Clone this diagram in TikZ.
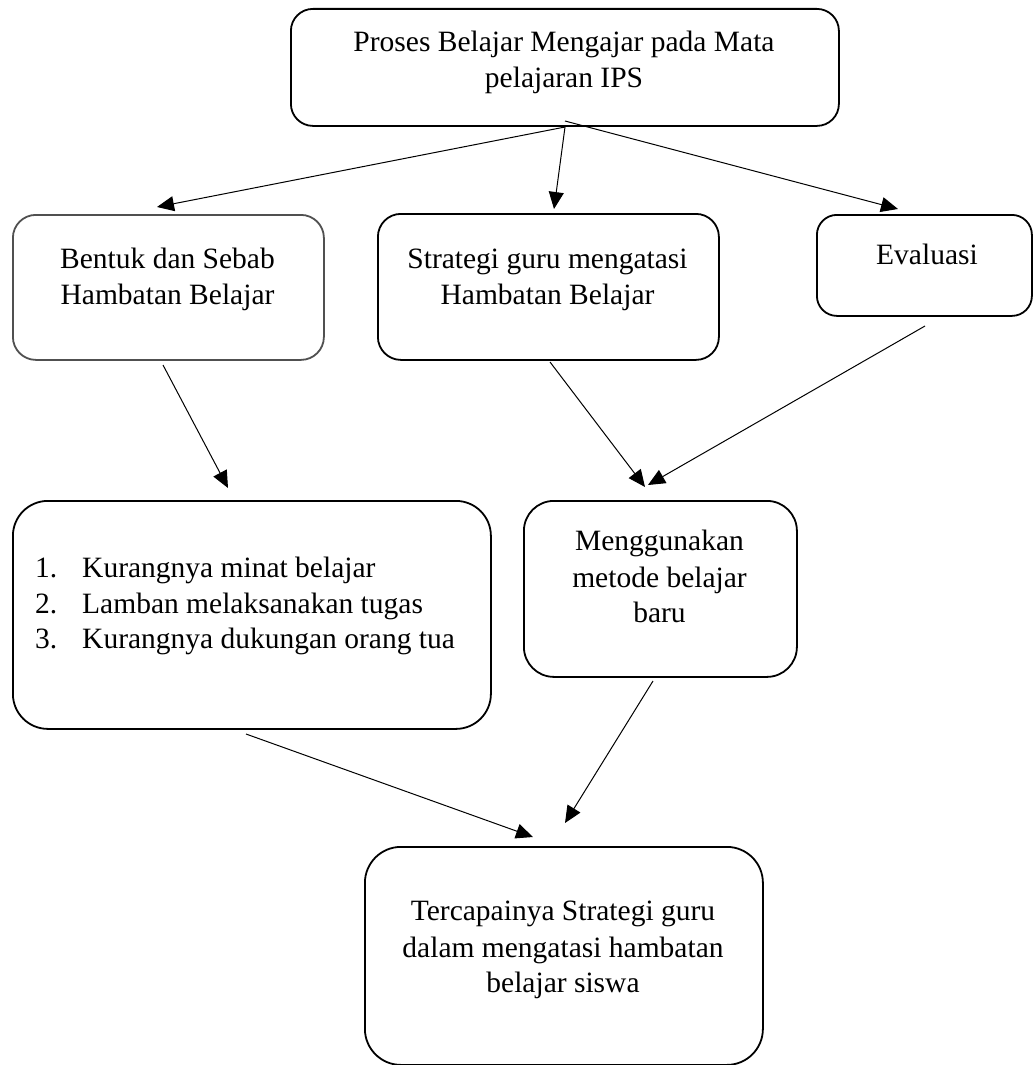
\documentclass[tikz,border=0pt]{standalone}
\usepackage{fontspec}
\setmainfont{Liberation Serif}
\usetikzlibrary{arrows.meta}
\definecolor{boxgray}{RGB}{80,80,80}
\begin{document}
\begin{tikzpicture}[x=1pt,y=-1pt,
  box/.style={draw=black, line width=1.8pt, rounded corners=#1, inner sep=0pt, anchor=north west, fill=none},
  lbl/.style={inner sep=0pt, anchor=base, font=\fontsize{29.5}{35.5}\selectfont},
  lbll/.style={lbl, anchor=base west},
  conn/.style={line width=1pt, -{Triangle[length=17pt,width=15pt]}}]
\useasboundingbox (0,0) rectangle (1034,1065);
\fill[white] (0,0) rectangle (1034,1065);
% boxes
\node[box=22pt, minimum width=548pt, minimum height=117pt] (top) at (290,8) {};
\node[box=23pt, draw=boxgray, minimum width=311pt, minimum height=145pt] (bentuk) at (12,214) {};
\node[box=23pt, minimum width=341pt, minimum height=146pt] (strategi) at (377,213) {};
\node[box=20pt, minimum width=215pt, minimum height=101pt] (eval) at (816,214) {};
\node[box=35pt, minimum width=478pt, minimum height=228pt] (list) at (12,500) {};
\node[box=30pt, minimum width=273pt, minimum height=176pt] (meng) at (523,500) {};
\node[box=36pt, minimum width=398pt, minimum height=218pt] (hasil) at (364,846) {};
% texts
\node[lbl] (topa) at (564,52) {Proses Belajar Mengajar pada Mata};
\node[lbl] (topb) at (564,87.5) {pelajaran IPS};
\node[lbl] (bentuka) at (167.5,268) {Bentuk dan Sebab};
\node[lbl] (bentukb) at (167.5,304) {Hambatan Belajar};
\node[lbl] (strategia) at (547.5,268) {Strategi guru mengatasi};
\node[lbl] (strategib) at (547.5,304) {Hambatan Belajar};
\node[lbl] (evala) at (927,264) {Evaluasi};
\node[lbll] (n1) at (35,577) {1.};
\node[lbll] (l1) at (82,577) {Kurangnya minat belajar};
\node[lbll] (n2) at (35,613) {2.};
\node[lbll] (l2) at (82,613) {Lamban melaksanakan tugas};
\node[lbll] (n3) at (35,648) {3.};
\node[lbll] (l3) at (82,648) {Kurangnya dukungan orang tua};
\node[lbl] (menga) at (659.5,550) {Menggunakan};
\node[lbl] (mengb) at (659.5,587) {metode belajar};
\node[lbl] (mengc) at (659.5,622) {baru};
\node[lbl] (hasila) at (563,920) {Tercapainya Strategi guru};
\node[lbl] (hasilb) at (563,957) {dalam mengatasi hambatan};
\node[lbl] (hasilc) at (563,992) {belajar siswa};
% connector end points
\coordinate (s0a) at (565,127);
\coordinate (s0b) at (565,121);
\coordinate (e1) at (157,207);
\coordinate (e2) at (554,209);
\coordinate (e3) at (898,209);
\coordinate (s4) at (163,365);
\coordinate (e4) at (228,488);
\coordinate (s5) at (550,362);
\coordinate (e5) at (645,487);
\coordinate (s6) at (925,326);
\coordinate (e6) at (648,485);
\coordinate (s7) at (246,734);
\coordinate (e7) at (533,837);
\coordinate (s8) at (653,681);
\coordinate (e8) at (565,823);
% connectors
\draw[conn] (s0a) -- (e1);
\draw[conn] (s0a) -- (e2);
\draw[conn] (s0b) -- (e3);
\draw[conn] (s4) -- (e4);
\draw[conn] (s5) -- (e5);
\draw[conn] (s6) -- (e6);
\draw[conn] (s7) -- (e7);
\draw[conn] (s8) -- (e8);
\end{tikzpicture}
\end{document}
